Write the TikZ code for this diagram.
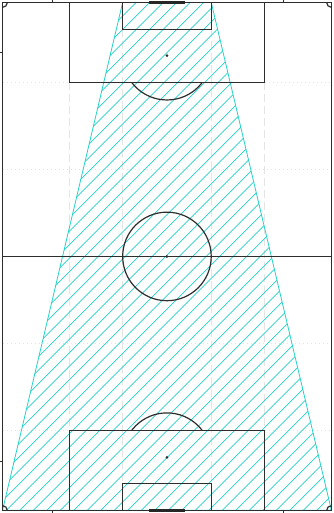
\documentclass[tikz,border=0pt]{standalone}
\usepackage{tikz}
\definecolor{pitchline}{RGB}{45,45,45}
\definecolor{zonecyan}{RGB}{36,210,198}
\definecolor{gridgray}{RGB}{228,228,228}
\tikzset{
  pitch/.style={draw=pitchline,line width=1.2pt},
  goalbar/.style={draw=black!85,line width=3pt},
  spot/.style={circle,fill=pitchline,inner sep=0pt,minimum size=3pt},
  vgrid/.style={draw=gridgray,line width=0.9pt,dash pattern=on 8pt off 4pt},
  hgrid/.style={draw=gridgray,line width=0.9pt,dash pattern=on 1pt off 3pt},
  hatchline/.style={draw=zonecyan,line width=0.8pt},
  axtick/.style={draw=pitchline,line width=0.6pt}
}
\begin{document}
\begin{tikzpicture}[x=1pt,y=-1pt]
  \useasboundingbox (0,0) rectangle (333,513);
  % axis ticks
  \foreach \t in {52,283}{
    \draw[axtick] (\t,0) -- (\t,2.5);
    \draw[axtick] (\t,510.5) -- (\t,513);
  }
  \foreach \t in {52,461}
    \draw[axtick] (0,\t) -- (2.5,\t);

  % pitch in metres
  \begin{scope}[shift={(2.5,2.5)},scale=4.838]
    % positional grid
    \foreach \gx in {13.84,54.16}
      \draw[vgrid] (\gx,16.5) -- (\gx,88.5);
    \foreach \gx in {24.84,43.16}
      \draw[vgrid] (\gx,5.5) -- (\gx,99.5);
    \foreach \gy in {16.5,88.5}{
      \draw[hgrid] (0,\gy) -- (13.84,\gy);
      \draw[hgrid] (54.16,\gy) -- (68,\gy);
    }
    \foreach \gy in {34.5,70.5}
      \draw[hgrid] (0,\gy) -- (68,\gy);

    % hatched zone
    \coordinate (z1) at (24.84,0);
    \coordinate (z2) at (43.16,0);
    \coordinate (z3) at (68,105);
    \coordinate (z4) at (0,105);
    \begin{scope}
      \clip (z1) -- (z2) -- (z3) -- (z4) -- cycle;
      \foreach \k in {0,...,63}
        \draw[hatchline] (\k*2.79-0.27,0) -- ++(-105,105);
    \end{scope}
    \draw[hatchline] (z1) -- (z2) -- (z3) -- (z4) -- cycle;

    % pitch markings
    \draw[pitch] (0,0) rectangle (68,105);
    \draw[pitch] (0,52.5) -- (68,52.5);
    \draw[pitch] (13.84,0) rectangle (54.16,16.5);
    \draw[pitch] (24.84,0) rectangle (43.16,5.5);
    \draw[pitch] (13.84,105) rectangle (54.16,88.5);
    \draw[pitch] (24.84,105) rectangle (43.16,99.5);
    \node[spot] (centre) at (34,52.5) {};
    \draw[pitch] (centre) circle (9.15);
    \node[spot] (spot top) at (34,11) {};
    \node[spot] (spot bot) at (34,94) {};
    \begin{scope}
      \clip (0,16.5) rectangle (68,30);
      \draw[pitch] (spot top) circle (9.15);
    \end{scope}
    \begin{scope}
      \clip (0,75) rectangle (68,88.5);
      \draw[pitch] (spot bot) circle (9.15);
    \end{scope}
    \begin{scope}
      \clip (0,0) rectangle (68,105);
      \foreach \cx/\cy in {0/0,68/0,0/105,68/105}
        \draw[pitch] (\cx,\cy) circle (1);
    \end{scope}
    \draw[goalbar] (30.34,0) -- (37.66,0);
    \draw[goalbar] (30.34,105) -- (37.66,105);
  \end{scope}
\end{tikzpicture}
\end{document}
